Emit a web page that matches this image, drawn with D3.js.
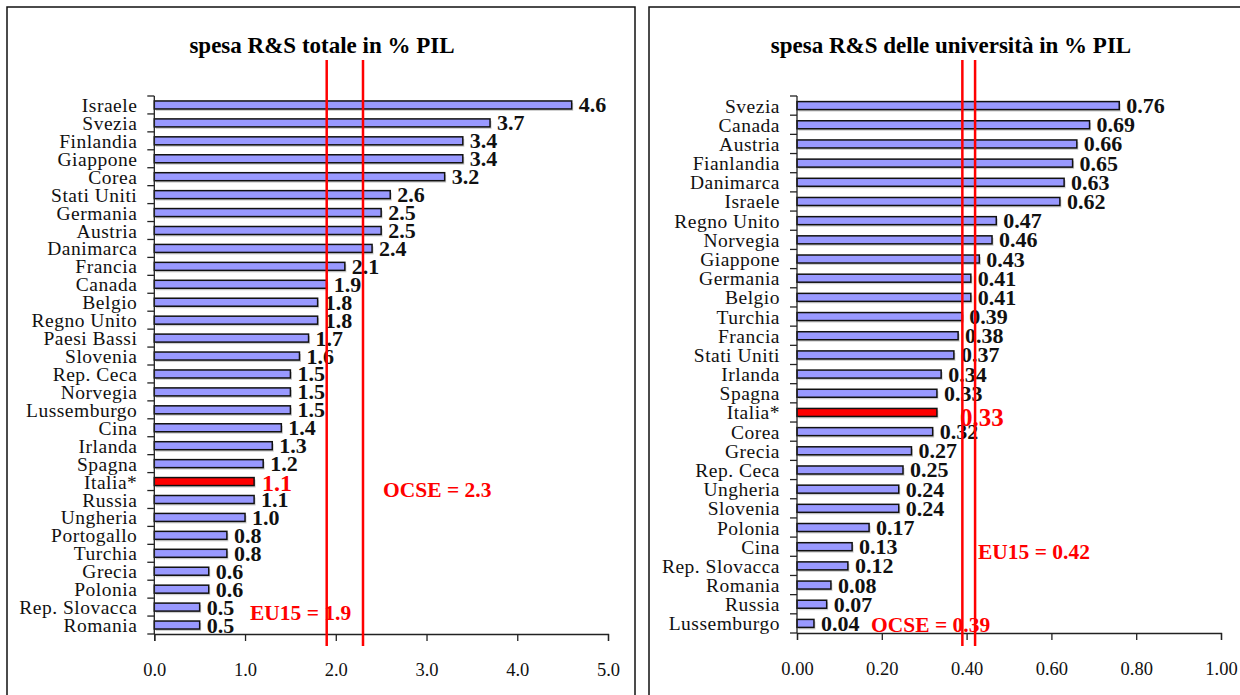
<!DOCTYPE html>
<html>
<head>
<meta charset="utf-8">
<script src="https://cdn.jsdelivr.net/npm/d3@7"></script>
<style>
  html, body { margin: 0; padding: 0; background: #fff; }
  svg { display: block; }
  text { font-family: "Liberation Serif", "Times New Roman", serif; }
</style>
</head>
<body>
<svg id="chart" width="1240" height="695"></svg>
<script>
// Spesa totale in R&S in % del PIL
const totCountries = ["Israele", "Svezia", "Finlandia", "Giappone", "Corea", "Stati Uniti", "Germania",
  "Austria", "Danimarca", "Francia", "Canada", "Belgio", "Regno Unito", "Paesi Bassi", "Slovenia",
  "Rep. Ceca", "Norvegia", "Lussemburgo", "Cina", "Irlanda", "Spagna", "Italia*", "Russia",
  "Ungheria", "Portogallo", "Turchia", "Grecia", "Polonia", "Rep. Slovacca", "Romania"];
const totValues = [4.6, 3.7, 3.4, 3.4, 3.2, 2.6, 2.5, 2.5, 2.4, 2.1, 1.9, 1.8, 1.8, 1.7, 1.6,
  1.5, 1.5, 1.5, 1.4, 1.3, 1.2, 1.1, 1.1, 1.0, 0.8, 0.8, 0.6, 0.6, 0.5, 0.5];
const totTicks = [0, 1, 2, 3, 4, 5];
const totRefNames = ["EU15", "OCSE"];
const totRefValues = [1.9, 2.3];

// Spesa in R&S delle università in % del PIL
const uniCountries = ["Svezia", "Canada", "Austria", "Fianlandia", "Danimarca", "Israele", "Regno Unito",
  "Norvegia", "Giappone", "Germania", "Belgio", "Turchia", "Francia", "Stati Uniti", "Irlanda",
  "Spagna", "Italia*", "Corea", "Grecia", "Rep. Ceca", "Ungheria", "Slovenia", "Polonia", "Cina",
  "Rep. Slovacca", "Romania", "Russia", "Lussemburgo"];
const uniValues = [0.76, 0.69, 0.66, 0.65, 0.63, 0.62, 0.47, 0.46, 0.43, 0.41, 0.41, 0.39, 0.38,
  0.37, 0.34, 0.33, 0.33, 0.32, 0.27, 0.25, 0.24, 0.24, 0.17, 0.13, 0.12, 0.08, 0.07, 0.04];
const uniTicks = [0, 0.2, 0.4, 0.6, 0.8, 1.0];
const uniRefNames = ["OCSE", "EU15"];
const uniRefValues = [0.39, 0.42];

const highlight = "Italia*";
const RED = "#ff0000";
const BAR = "#9999ff";

const svg = d3.select("#chart");

function panel(cfg) {
  const g = svg.append("g");

  // frame
  g.append("rect")
    .attr("x", cfg.frame[0]).attr("y", cfg.frame[1])
    .attr("width", cfg.frame[2]).attr("height", cfg.frame[3])
    .attr("fill", "none").attr("stroke", "#111").attr("stroke-width", 1.5);

  // title
  g.append("text")
    .attr("x", cfg.titleX).attr("y", 53)
    .attr("text-anchor", "middle")
    .attr("font-weight", "bold").attr("font-size", 23)
    .text(cfg.title);

  const x = d3.scaleLinear().domain([cfg.ticks[0], cfg.ticks[cfg.ticks.length - 1]])
    .range([cfg.left, cfg.right]);
  const y = d3.scaleBand().domain(cfg.cats).range([cfg.top, cfg.bottom]).paddingInner(0).paddingOuter(0);
  const bh = 8;
  const step = y.step();

  const rows = cfg.cats.map((c, i) => ({ c, v: cfg.vals[i] }));

  // bar shadows
  g.selectAll("rect.shadow").data(rows).join("rect")
    .attr("class", "shadow")
    .attr("x", x(0) + 1.5)
    .attr("y", d => y(d.c) + step / 2 - bh / 2 + 2)
    .attr("width", d => x(d.v) - x(0))
    .attr("height", bh)
    .attr("fill", "#cfcfcf");

  // bars
  g.selectAll("rect.bar").data(rows).join("rect")
    .attr("class", "bar")
    .attr("x", x(0))
    .attr("y", d => y(d.c) + step / 2 - bh / 2)
    .attr("width", d => x(d.v) - x(0))
    .attr("height", bh)
    .attr("fill", d => d.c === highlight ? RED : BAR)
    .attr("stroke", "#111").attr("stroke-width", 1.5);

  // category labels
  g.selectAll("text.cat").data(rows).join("text")
    .attr("class", "cat")
    .attr("x", cfg.left - 17)
    .attr("y", d => y(d.c) + step / 2 + 7)
    .attr("text-anchor", "end")
    .attr("font-size", 19.5)
    .attr("letter-spacing", 0.5)
    .attr("fill", "#111")
    .text(d => d.c);

  // value labels
  g.selectAll("text.val").data(rows).join("text")
    .attr("class", "val")
    .attr("x", d => x(d.v) + (d.c === highlight ? cfg.hiDx : 7))
    .attr("y", d => y(d.c) + step / 2 + (d.c === highlight ? cfg.hiDy : 7.5))
    .attr("font-weight", "bold")
    .attr("font-size", d => d.c === highlight ? cfg.hiSize : 22)
    .attr("fill", d => d.c === highlight ? RED : "#111")
    .text(d => d3.format(cfg.fmt)(d.v));

  // y axis with ticks on band boundaries
  const yb = d3.range(cfg.cats.length + 1).map(i => cfg.top + i * step);
  g.append("line")
    .attr("x1", x(0)).attr("x2", x(0)).attr("y1", cfg.top).attr("y2", cfg.bottom)
    .attr("stroke", "#222").attr("stroke-width", 1.3);
  g.selectAll("line.ytick").data(yb).join("line")
    .attr("class", "ytick")
    .attr("x1", x(0) - 7).attr("x2", x(0))
    .attr("y1", d => d).attr("y2", d => d)
    .attr("stroke", "#222").attr("stroke-width", 1.3);

  // x axis
  const xa = d3.axisBottom(x).tickValues(cfg.ticks).tickFormat(d3.format(cfg.tickFmt))
    .tickSize(7).tickPadding(22);
  const ax = g.append("g").attr("transform", `translate(0,${cfg.bottom})`).call(xa);
  ax.select(".domain").attr("stroke", "#222").attr("stroke-width", 1.3);
  ax.selectAll(".tick line").attr("stroke", "#222").attr("stroke-width", 1.3);
  ax.selectAll(".tick text")
    .attr("font-family", "Liberation Serif, serif")
    .attr("font-size", 18.5).attr("fill", "#111");

  // reference lines
  g.selectAll("line.ref").data(cfg.refValues).join("line")
    .attr("class", "ref")
    .attr("x1", d => x(d)).attr("x2", d => x(d))
    .attr("y1", 60).attr("y2", 646)
    .attr("stroke", RED).attr("stroke-width", 2.5);

  // reference labels
  cfg.refNames.forEach((n, i) => {
    g.append("text")
      .attr("x", cfg.refPos[i][0]).attr("y", cfg.refPos[i][1])
      .attr("font-weight", "bold").attr("font-size", 21.5)
      .attr("fill", RED)
      .text(`${n} = ${d3.format(cfg.fmt)(cfg.refValues[i])}`);
  });
}

panel({
  frame: [7, 7, 628, 720],
  title: "spesa R&S totale in % PIL",
  titleX: 322,
  cats: totCountries, vals: totValues, ticks: totTicks,
  left: 154.3, right: 608, top: 96, bottom: 634,
  fmt: ".1f", tickFmt: ".1f",
  hiDx: 8, hiDy: 9, hiSize: 24,
  refNames: totRefNames, refValues: totRefValues,
  refPos: [[250, 620], [383, 497]]
});

panel({
  frame: [649, 7, 620, 720],
  title: "spesa R&S delle università in % PIL",
  titleX: 951,
  cats: uniCountries, vals: uniValues, ticks: uniTicks,
  left: 797, right: 1221, top: 96, bottom: 633,
  fmt: ".2f", tickFmt: ".2f",
  hiDx: 23, hiDy: 14, hiSize: 25,
  refNames: uniRefNames, refValues: uniRefValues,
  refPos: [[871, 632], [978, 559]]
});
</script>
</body>
</html>
